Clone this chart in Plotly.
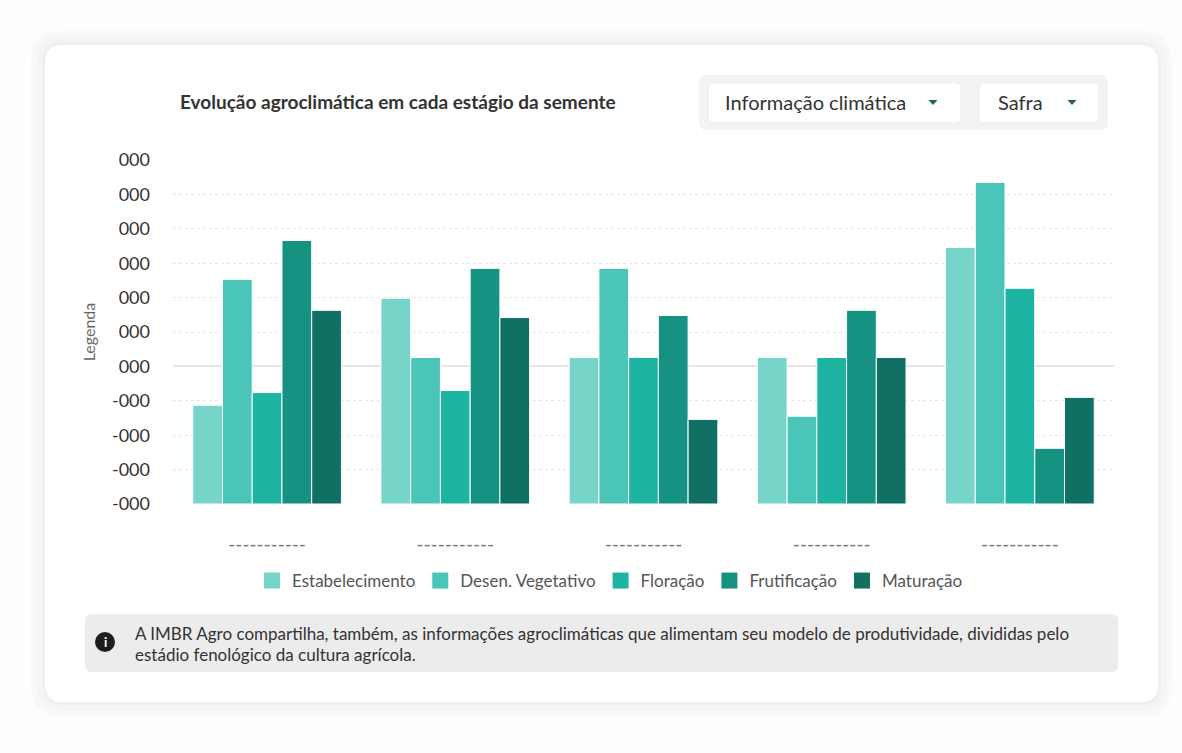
import plotly.graph_objects as go

# --- data ---
groups = [0, 1, 2, 3, 4]
group_labels = ["-----------"] * 5
stages = ["Estabelecimento", "Desen. Vegetativo", "Floração", "Frutificação", "Maturação"]
estabelecimento = [-1.13, 1.98, 0.26, 0.26, 3.46]
desen_vegetativo = [2.53, 0.26, 2.85, -1.45, 5.35]
floracao = [-0.76, -0.70, 0.26, 0.26, 2.27]
frutificacao = [3.66, 2.85, 1.48, 1.63, -2.38]
maturacao = [1.63, 1.42, -1.54, 0.26, -0.90]
tick_vals = [-4, -3, -2, -1, 0, 1, 2, 3, 4, 5, 6]
tick_text = ["-000", "-000", "-000", "-000", "000", "000", "000", "000", "000", "000", "000"]

series = [estabelecimento, desen_vegetativo, floracao, frutificacao, maturacao]
colors = ["#77d4c8", "#4bc5b7", "#1db5a1", "#169282", "#0f7063"]
BASE = -4

# page geometry (pixels) -> paper coords
W, H = 1182, 753
L, R, T, B = 173, 1114, 160, 504
FONT = "Lato"


def px(x):
    return (x - L) / (R - L)


def py(y):
    return (B - y) / (B - T)


def rrect(x0, y0, x1, y1, r):
    rx = r / (R - L)
    ry = r / (B - T)
    a, b, c, d = px(x0), px(x1), py(y0), py(y1)  # c top, d bottom
    return (f"M{a + rx},{c} L{b - rx},{c} Q{b},{c} {b},{c - ry} "
            f"L{b},{d + ry} Q{b},{d} {b - rx},{d} L{a + rx},{d} "
            f"Q{a},{d} {a},{d + ry} L{a},{c - ry} Q{a},{c} {a + rx},{c} Z")


def note(text, x, y, size, color="#333333", xanchor="left"):
    return dict(text=text, xref="paper", yref="paper", x=px(x), y=py(y),
                xanchor=xanchor, yanchor="middle", showarrow=False,
                font=dict(family=FONT, size=size, color=color))


fig = go.Figure()

for name, vals, col in zip(stages, series, colors):
    fig.add_trace(go.Bar(
        x=groups,
        y=[v - BASE for v in vals],
        base=BASE,
        name=name,
        marker=dict(color=col, line=dict(color="white", width=1)),
        showlegend=False,
        hovertemplate=name + ": %{customdata:.2f}<extra></extra>",
        customdata=vals,
    ))
    # legend swatch
    fig.add_trace(go.Scatter(
        x=[None], y=[None], mode="markers", name=name,
        marker=dict(symbol="square", size=16, color=col),
    ))

shapes = []
# card shadow + card
for grow, col in [(14, "#f8f8f8"), (8, "#f4f4f4"), (3, "#efefef")]:
    shapes.append(dict(type="path", xref="paper", yref="paper", layer="below",
                       path=rrect(45 - grow, 45 - grow, 1158 + grow, 702 + grow, 18 + grow),
                       fillcolor=col, line=dict(width=0)))
shapes.append(dict(type="path", xref="paper", yref="paper", layer="below",
                   path=rrect(45, 45, 1158, 702, 18), fillcolor="white", line=dict(width=0)))
# dropdown panel
shapes.append(dict(type="path", xref="paper", yref="paper", layer="below",
                   path=rrect(699, 75, 1108, 130, 8), fillcolor="#f3f3f3", line=dict(width=0)))
shapes.append(dict(type="path", xref="paper", yref="paper", layer="below",
                   path=rrect(708, 83, 961, 123, 6), fillcolor="white",
                   line=dict(color="#ebebeb", width=1)))
shapes.append(dict(type="path", xref="paper", yref="paper", layer="below",
                   path=rrect(979, 83, 1099, 123, 6), fillcolor="white",
                   line=dict(color="#ebebeb", width=1)))
for cx in [933, 1072]:
    shapes.append(dict(type="path", xref="paper", yref="paper",
                       path=f"M{px(cx - 4.5)},{py(100)} L{px(cx + 4.5)},{py(100)} L{px(cx)},{py(105)} Z",
                       fillcolor="#1d6a4c", line=dict(width=0)))
# info box
shapes.append(dict(type="path", xref="paper", yref="paper", layer="below",
                   path=rrect(85, 614, 1118, 672, 7), fillcolor="#ececec", line=dict(width=0)))
shapes.append(dict(type="circle", xref="paper", yref="paper",
                   x0=px(95), x1=px(115), y0=py(632), y1=py(652),
                   fillcolor="#1e1e1e", line=dict(width=0)))

annotations = [
    note("<b>Evolução agroclimática em cada estágio da semente</b>", 178, 102, 19),
    note("Informação climática", 723, 102, 20),
    note("Safra", 996, 102, 20),
    note("<b>i</b>", 105, 642, 13, color="white", xanchor="center"),
    note("A IMBR Agro compartilha, também, as informações agroclimáticas que alimentam "
         "seu modelo de produtividade, divididas pelo", 133, 633, 17),
    note("estádio fenológico da cultura agrícola.", 133, 654, 17),
]

fig.update_layout(
    width=W, height=H,
    margin=dict(l=L, r=W - R, t=T, b=H - B, pad=0),
    paper_bgcolor="#fdfdfd",
    plot_bgcolor="rgba(0,0,0,0)",
    barmode="group",
    bargap=0.21,
    bargroupgap=0,
    font=dict(family=FONT, color="#333333"),
    shapes=shapes,
    annotations=annotations,
    legend=dict(orientation="h", x=px(610), xanchor="center", y=py(581), yanchor="middle",
                font=dict(family=FONT, size=17, color="#555555"), bgcolor="rgba(0,0,0,0)",
                itemsizing="trace"),
    hovermode="closest",
)
fig.update_xaxes(
    range=[-0.5, 4.5], tickvals=groups, ticktext=group_labels,
    showgrid=False, zeroline=False, showline=False, ticks="",
    tickfont=dict(family=FONT, size=19, color="#777777"), ticklabelstandoff=27,
)
fig.update_yaxes(
    range=[-4, 6], tickvals=tick_vals, ticktext=tick_text,
    showgrid=True, gridcolor="#e6e6e6", griddash="dot", gridwidth=1,
    zeroline=True, zerolinecolor="#e6e6e6", zerolinewidth=1.5,
    showline=False, ticks="", ticklabelstandoff=22,
    tickfont=dict(family=FONT, size=18, color="#333333"),
    title=dict(text="Legenda", standoff=12, font=dict(family=FONT, size=16, color="#666666")),
)

fig.write_html("out.html", config={"displayModeBar": False},
               post_script="document.body.style.margin='0';")
